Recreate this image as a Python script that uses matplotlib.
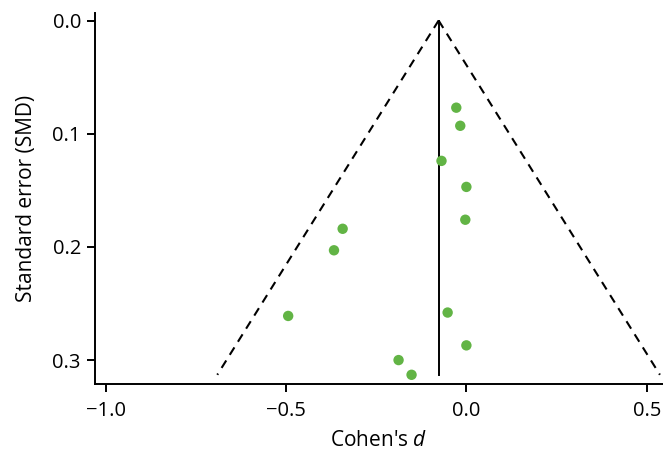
import matplotlib
matplotlib.use("Agg")
import matplotlib.pyplot as plt
import numpy as np

# Study effect sizes (Cohen's d) and their standard errors
cohens_d = [-0.028, -0.017, -0.069, 0.000, -0.003, -0.343, -0.367,
            -0.494, -0.052, 0.000, -0.188, -0.152]
std_err = [0.077, 0.093, 0.124, 0.147, 0.176, 0.184, 0.203,
           0.261, 0.258, 0.287, 0.300, 0.313]
pooled_d = -0.077

x_ticks = [-1.0, -0.5, 0.0, 0.5]
y_ticks = [0.0, 0.1, 0.2, 0.3]

plt.rcParams['font.family'] = ['Open Sans', 'DejaVu Sans']
plt.rcParams['mathtext.fontset'] = 'custom'
plt.rcParams['mathtext.it'] = 'Open Sans:italic'

fig = plt.figure(figsize=(6.63, 4.5), dpi=100)
ax = fig.add_axes([0.143, 0.147, 0.857, 0.825])

# Pseudo 95% confidence funnel around the pooled estimate
se_max = max(std_err)
se_line = np.array([0.0, se_max])
ax.plot(pooled_d - 1.96 * se_line, se_line, color='black', ls=(0, (4.2, 3.2)), lw=1.5)
ax.plot(pooled_d + 1.96 * se_line, se_line, color='black', ls=(0, (4.2, 3.2)), lw=1.5)
ax.plot([pooled_d, pooled_d], [0.0, se_max], color='black', lw=1.4)

ax.scatter(cohens_d, std_err, s=56, color='#62b445', edgecolors='none', zorder=3)

ax.set_xlim(-1.03, 0.545)
ax.set_ylim(0.321, -0.007)
ax.set_xticks(x_ticks)
ax.set_xticklabels(['\u22121.0', '\u22120.5', '0.0', '0.5'])
ax.set_yticks(y_ticks)
ax.set_yticklabels(['0.0', '0.1', '0.2', '0.3'])

for side in ('top', 'right'):
    ax.spines[side].set_visible(False)
for side in ('left', 'bottom'):
    ax.spines[side].set_linewidth(1.4)
ax.tick_params(axis='both', labelsize=14.5, length=6, width=1.4, direction='out')
ax.tick_params(axis='x', pad=6)
ax.tick_params(axis='y', pad=4)

ax.set_xlabel("Cohen's $d$", fontsize=15, labelpad=7)
ax.set_ylabel("Standard error (SMD)", fontsize=15, labelpad=11)

fig.savefig('out.png', dpi=100)
